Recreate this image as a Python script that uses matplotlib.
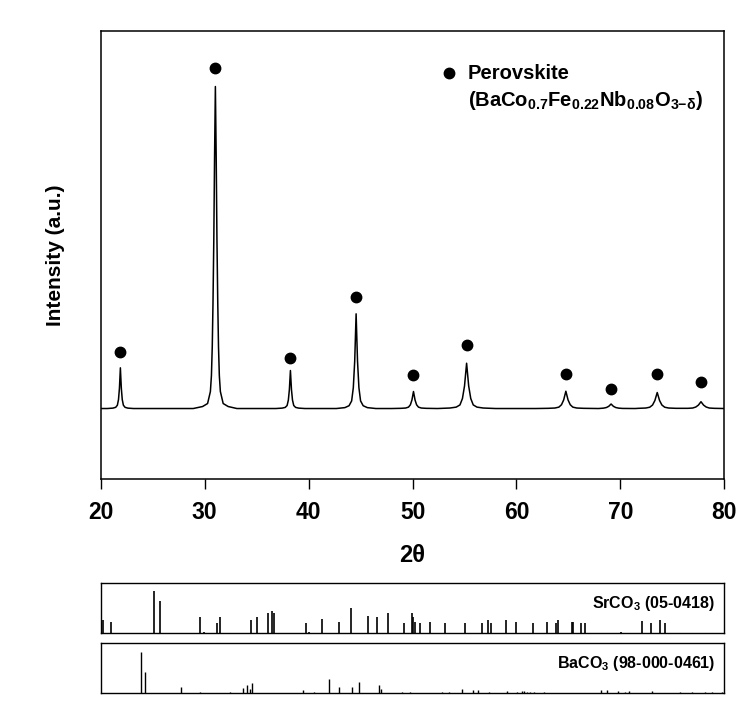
import matplotlib
matplotlib.use("Agg")
import matplotlib.pyplot as plt

# XRD pattern of the perovskite (2theta in degrees, intensity in a.u.)
two_theta = [20.0, 20.63, 21.17, 21.44, 21.60, 21.71, 21.80, 21.89, 21.98, 22.07, 22.18, 22.34, 22.61, 23.15,
             28.9, 29.8, 30.28, 30.55, 30.65, 30.73, 30.8, 30.88, 30.95, 31.03, 31.11, 31.18, 31.26,
             31.33, 31.41, 31.51, 31.78, 32.26, 33.1,
             36.85, 37.45, 37.75, 37.93, 38.05, 38.15, 38.25, 38.35, 38.45, 38.57, 38.75, 39.05, 39.65,
             42.67, 43.49, 43.89, 44.14, 44.30, 44.435, 44.57, 44.705, 44.84, 45.0, 45.25, 45.65, 46.47,
             47.99, 48.89, 49.34, 49.61, 49.79, 49.94, 50.09, 50.24, 50.39, 50.57, 50.84, 51.29, 52.19,
             52.4, 53.6, 54.2, 54.56, 54.8, 55.0, 55.2, 55.4, 55.6, 55.84, 56.2, 56.8, 58.0,
             61.85, 63.05, 63.7, 64.08, 64.33, 64.54, 64.75, 64.96, 65.17, 65.42, 65.8, 66.45, 67.65,
             67.9, 68.38, 68.65, 68.875, 69.1, 69.325, 69.55, 69.82, 70.2, 70.9,
             71.4, 71.74, 72.44, 72.82, 73.09, 73.315, 73.54, 73.765, 73.99, 74.26, 74.64, 75.34,
             76.5, 76.95, 77.25, 77.5, 77.75, 78.0, 78.25, 78.55, 79.0, 80.0]
intensity = [0, 0, 4, 12, 33, 90, 204, 407, 204, 90, 33, 12, 4, 0,
             0, 20, 50, 170, 330, 620, 1050, 1700, 2500, 3220, 2500, 1700, 1050,
             620, 330, 170, 50, 20, 0,
             0, 4, 11, 30, 84, 190, 380, 190, 84, 30, 11, 4, 0,
             0, 9, 28, 76, 208, 474, 947, 474, 208, 76, 28, 9, 0,
             0, 2, 5, 14, 37, 85, 170, 85, 37, 14, 5, 2, 0,
             0, 5, 14, 36, 100, 226, 453, 226, 100, 36, 14, 5, 0,
             0, 2, 5, 14, 38, 86, 173, 86, 38, 14, 5, 2, 0,
             0, 4, 10, 22, 45, 22, 10, 4, 1, 0,
             0, 2, 5, 13, 35, 80, 160, 80, 35, 13, 5, 2,
             2, 5, 15, 34, 68, 34, 15, 5, 2, 0]

# perovskite markers above the peaks
marker_x = [21.89, 31.03, 38.25, 44.57, 50.09, 55.2, 64.75, 69.1, 73.54, 77.75]
marker_y = [562, 3402, 502, 1112, 332, 638, 342, 192, 342, 268]

# reference lines SrCO3 (05-0418): position, relative intensity (%)
srco3_pos = [20.25, 21.02, 25.16, 25.74, 29.59, 29.97, 31.22, 31.51, 34.5, 35.07, 36.13, 36.52, 36.65,
             39.79, 40.0, 41.33, 42.96, 44.12, 45.70, 46.62, 47.68, 49.22, 49.93, 50.05, 50.2, 50.67,
             51.66, 53.11, 55.03, 56.67, 57.24, 57.57, 59.01, 59.91, 61.58, 62.89, 63.79, 63.95,
             65.33, 65.46, 66.16, 66.61, 70.05, 72.07, 72.93, 73.77, 74.25]
srco3_int = [27, 22, 85, 65, 33, 2, 20, 33, 27, 33, 41, 45, 41,
             20, 2, 29, 23, 51, 35, 33, 41, 21, 40, 33, 23, 20,
             23, 20, 20, 20, 27, 20, 27, 23, 20, 23, 20, 27,
             23, 23, 20, 20, 2, 25, 20, 27, 20]

# reference lines BaCO3 (98-000-0461)
baco3_pos = [23.88, 24.26, 27.70, 29.53, 32.48, 33.73, 34.11, 34.37, 34.56, 39.5, 40.56, 42.0, 42.97,
             44.22, 44.89, 46.82, 47.01, 48.94, 49.80, 52.88, 53.55, 54.74, 55.80, 56.28, 57.4,
             59.07, 60.04, 60.55, 60.77, 61.0, 61.32, 61.7, 62.6, 68.15, 68.7, 69.76, 70.43, 70.85,
             73.03, 75.76, 76.88, 78.1, 78.8, 79.77]
baco3_int = [82, 43, 12, 2, 2, 10, 16, 8, 20, 6, 2, 28, 12,
             12, 22, 16, 8, 2, 2, 2, 2, 9, 6, 7, 2,
             4, 3, 4, 5, 3, 3, 3, 2, 6, 6, 4, 3, 4,
             4, 2, 3, 2, 3, 3]

plt.rcParams['font.family'] = ['Liberation Sans', 'DejaVu Sans']
plt.rcParams['font.weight'] = 'bold'
plt.rcParams['mathtext.fontset'] = 'custom'
plt.rcParams['mathtext.rm'] = 'Liberation Sans:bold'
plt.rcParams['mathtext.it'] = 'Liberation Sans:bold'
plt.rcParams['mathtext.bf'] = 'Liberation Sans:bold'
plt.rcParams['mathtext.sf'] = 'Liberation Sans:bold'

fig = plt.figure(figsize=(7.54, 7.28), dpi=100)

# main pattern
ax = fig.add_axes([0.1336, 0.342, 0.8271, 0.6158])
ax.plot(two_theta, intensity, color='black', lw=1.1)
ax.plot(marker_x, marker_y, 'o', color='black', ms=7.5, ls='none')
ax.set_xlim(20, 80)
ax.set_ylim(-705, 3778)
ax.set_yticks([])
ax.set_xticks([20, 30, 40, 50, 60, 70, 80])
ax.tick_params(axis='x', direction='out', length=7, width=1.0, pad=9)
for lab in ax.get_xticklabels():
    lab.set_fontsize(16.5)
    lab.set_fontweight('bold')
for s in ax.spines.values():
    s.set_linewidth(1.1)
ax.set_xlabel('2θ', fontsize=17, fontweight='bold', labelpad=14)
ax.set_ylabel('Intensity (a.u.)', fontsize=15, fontweight='bold', labelpad=26)

# legend
ax.plot([0.5585], [0.9056], 'o', color='black', ms=7.5, transform=ax.transAxes, clip_on=False)
ax.text(0.589, 0.9056, 'Perovskite', transform=ax.transAxes, fontsize=14.5,
        fontweight='bold', va='center', ha='left')
ax.text(0.589, 0.845, r'(BaCo$_{0.7}$Fe$_{0.22}$Nb$_{0.08}$O$_{3\mathrm{-}\delta}$)',
        transform=ax.transAxes, fontsize=14.5, fontweight='bold', va='center', ha='left')

# reference cards
def card(rect, pos, ints, label, lw):
    a = fig.add_axes(rect)
    a.vlines(pos, 0, ints, color='black', lw=lw)
    a.set_xlim(20, 80)
    a.set_ylim(0, 100)
    a.set_xticks([])
    a.set_yticks([])
    for s in a.spines.values():
        s.set_linewidth(1.0)
    a.text(0.985, 0.6, label, transform=a.transAxes, ha='right', va='center',
           fontsize=11.5, fontweight='bold')
    return a

card([0.1336, 0.1301, 0.8271, 0.0687], srco3_pos, srco3_int, r'SrCO$_3$ (05-0418)', 1.2)
card([0.1336, 0.0477, 0.8271, 0.0687], baco3_pos, baco3_int, r'BaCO$_3$ (98-000-0461)', 1.0)

fig.savefig('out.png', dpi=100)
